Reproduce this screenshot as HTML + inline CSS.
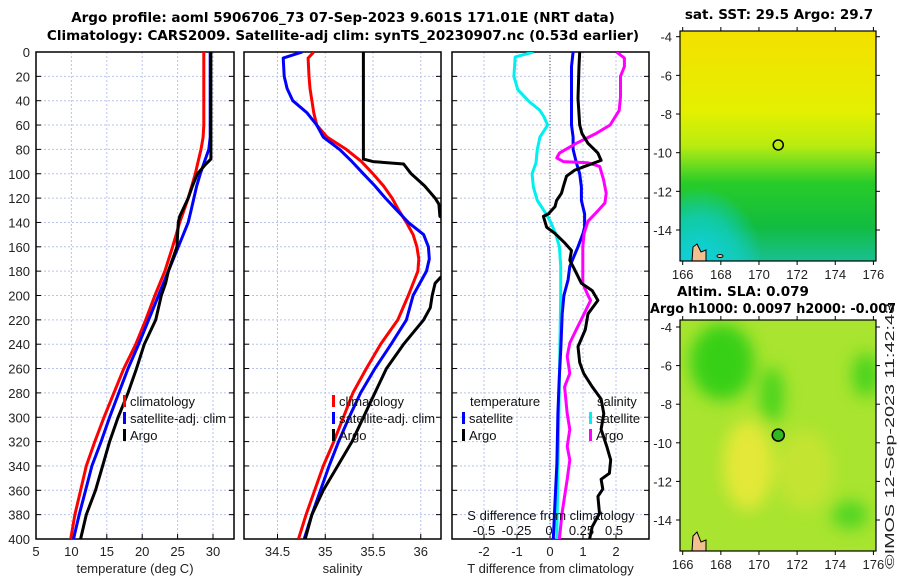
<!DOCTYPE html>
<html><head><meta charset="utf-8">
<style>
html,body{margin:0;padding:0;background:#fff;}
svg{display:block;font-family:"Liberation Sans","DejaVu Sans",sans-serif;}
.tk{font-size:13px;fill:#222;}
.ttl{font-size:13.5px;font-weight:bold;fill:#000;font-family:"DejaVu Sans","Liberation Sans",sans-serif;}
.lg{font-size:13px;fill:#111;}
</style></head>
<body>
<svg id="chart" width="900" height="580" viewBox="0 0 900 580" xmlns="http://www.w3.org/2000/svg">
<defs>
 <clipPath id="c1"><rect x="36" y="52" width="198" height="487"/></clipPath>
 <clipPath id="c2"><rect x="244" y="52" width="197" height="487"/></clipPath>
 <clipPath id="c3"><rect x="452" y="52" width="197" height="487"/></clipPath>
 <clipPath id="cm1"><rect x="680" y="31" width="196" height="230"/></clipPath>
 <clipPath id="cm2"><rect x="680" y="320" width="196" height="231"/></clipPath>
 <linearGradient id="sstg" x1="0" y1="0" x2="0" y2="1">
  <stop offset="0" stop-color="#f4e000"/><stop offset="0.35" stop-color="#e4f000"/>
  <stop offset="0.5" stop-color="#b8ec10"/><stop offset="0.58" stop-color="#70dc20"/>
  <stop offset="0.66" stop-color="#28cc28"/><stop offset="0.85" stop-color="#12bc40"/>
  <stop offset="1" stop-color="#18c090"/>
 </linearGradient>
 <radialGradient id="teal" cx="0.1" cy="1" r="0.32"><stop offset="0" stop-color="#10d0e0"/><stop offset="0.6" stop-color="#10d0d0" stop-opacity="0.7"/><stop offset="1" stop-color="#10d0e0" stop-opacity="0"/></radialGradient>
 <filter id="bl"><feGaussianBlur stdDeviation="8"/></filter>
</defs>
<g id="titles">
 <text class="ttl" x="343" y="22" text-anchor="middle">Argo profile: aoml 5906706_73 07-Sep-2023 9.601S 171.01E (NRT data)</text>
 <text class="ttl" x="343" y="40" text-anchor="middle">Climatology: CARS2009. Satellite-adj clim: synTS_20230907.nc (0.53d earlier)</text>
 <text class="ttl" x="779" y="19" text-anchor="middle">sat. SST: 29.5 Argo: 29.7</text>
 <text class="ttl" x="677" y="296">Altim. SLA: 0.079</text>
 <text class="ttl" x="650" y="313" textLength="246" lengthAdjust="spacingAndGlyphs">Argo h1000: 0.0097 h2000: -0.007</text>
 <text class="tk" x="0" y="0" transform="translate(894,569) rotate(-90)" textLength="266" lengthAdjust="spacingAndGlyphs">©IMOS 12-Sep-2023 11:42:43</text>
</g>
<g id="maps"></g>
<g id="panels"></g>
</svg>
<script>
// ---- data ----
const depths = [0,10,20,40,60,70,80,90,100,110,120,130,140,150,160,180,200,220,240,260,280,300,320,340,360,380,400];
const tempClim = [28.7,28.7,28.7,28.7,28.7,28.6,28.3,27.9,27.5,27.0,26.5,25.9,25.3,24.8,24.3,23.2,21.8,20.5,19.1,17.4,16.0,14.6,13.3,12.1,11.3,10.5,9.9];
const tempSat = [29.6,29.6,29.6,29.6,29.6,29.6,29.4,28.8,28.2,27.7,27.3,26.9,26.5,25.8,25.1,23.7,22.3,20.9,19.5,18.0,16.7,15.4,14.2,12.9,12.0,11.1,10.3];
const tempArgoDepth = [0,20,40,60,80,88,92,100,110,120,135,140,160,180,190,200,220,240,260,280,300,320,340,360,380,400];
const tempArgo = [29.7,29.7,29.7,29.7,29.7,29.7,29.0,27.8,27.1,26.5,25.3,25.1,24.9,23.7,23.3,22.7,21.9,20.3,19.2,18.0,16.6,15.4,14.4,13.4,12.1,11.3];
const salDepth = [0,5,20,30,40,50,60,70,80,90,100,110,120,130,140,150,160,170,180,200,220,240,260,280,300,320,340,360,380,400];
const salClim = [34.88,34.82,34.83,34.84,34.86,34.88,34.91,35.02,35.22,35.38,35.50,35.61,35.70,35.77,35.85,35.92,35.96,35.98,35.97,35.87,35.76,35.58,35.43,35.29,35.19,35.09,34.98,34.89,34.80,34.72];
const salSat = [34.76,34.56,34.57,34.60,34.66,34.81,34.91,34.98,35.15,35.28,35.40,35.52,35.63,35.75,35.87,36.03,36.08,36.09,36.06,35.92,35.85,35.69,35.52,35.37,35.25,35.14,35.04,34.95,34.86,34.78];
const salArgoDepth = [0,20,40,60,80,88,90,92,100,110,120,125,135,140,180,185,190,200,210,220,240,260,280,300,320,340,360,380,400];
const salArgo = [35.40,35.40,35.40,35.40,35.40,35.40,35.50,35.82,35.90,36.04,36.15,36.19,36.20,36.30,36.30,36.21,36.15,36.12,36.10,36.03,35.82,35.64,35.52,35.40,35.28,35.13,34.98,34.86,34.79];
const dTsatDepth = [0,12,38,60,70,80,91,100,111,122,133,144,149,160,176,187,200,215,242,269,297,338,370,400];
const dTsat = [0.70,0.65,0.65,0.65,0.70,0.70,0.80,0.90,0.95,0.95,1.05,1.05,1.00,0.85,0.60,0.55,0.42,0.37,0.33,0.28,0.24,0.21,0.15,0.10];
const dTargoDepth = [0,12,38,60,67,75,83,89,93,97,102,111,116,122,127,133,135,144,149,157,163,171,179,190,196,204,215,228,242,255,264,275,285,297,310,324,335,346,351,359,365,379,390,400];
const dTargo = [0.90,0.88,0.85,0.90,0.97,1.15,1.45,1.55,1.15,0.75,0.50,0.40,0.35,0.20,0.15,-0.05,-0.20,-0.10,0.15,0.45,0.65,0.60,0.75,0.95,1.28,1.45,1.15,1.07,0.85,0.90,1.02,1.28,1.55,1.63,1.55,1.72,1.84,1.80,1.55,1.60,1.45,1.50,1.28,1.20];
const dSsatDepth = [0,4,20,31,41,48,53,60,70,80,91,100,111,122,130,139,149,160,176,200,300,400];
const dSsat = [-0.12,-0.26,-0.27,-0.24,-0.15,-0.07,-0.04,-0.01,-0.07,-0.09,-0.10,-0.13,-0.12,-0.09,-0.04,0.01,0.05,0.08,0.09,0.09,0.075,0.06];
const dSargoDepth = [0,5,12,20,37,48,60,67,75,83,87,90,91,94,105,116,124,130,139,149,160,176,190,200,204,215,228,239,250,264,275,297,310,324,335,351,365,379,400];
const dSargo = [0.52,0.58,0.58,0.55,0.55,0.54,0.47,0.36,0.21,0.08,0.06,0.11,0.30,0.39,0.42,0.44,0.43,0.38,0.30,0.27,0.26,0.26,0.26,0.30,0.32,0.27,0.21,0.16,0.14,0.16,0.12,0.14,0.16,0.14,0.16,0.14,0.12,0.10,0.08];
const depthTicks = [0,20,40,60,80,100,120,140,160,180,200,220,240,260,280,300,320,340,360,380,400];
const tempTicks = [5,10,15,20,25,30];
const salTicks = [34.5,35,35.5,36];
const dTTicks = [-2,-1,0,1,2];
const dSTicks = [-0.5,-0.25,0,0.25,0.5];
const dSTickLabels = ["-0.5","-0.25","0","0.25","0.5"];
const lonTicks = [166,168,170,172,174,176];
const latTicks = [-4,-6,-8,-10,-12,-14];
const argoLon = 171.01, argoLat = -9.601;

// ---- axis functions ----
const Y = d => 52 + d * 487 / 400;
const X1 = t => 36 + (t - 5) * 7.08;
const X2 = s => 277.5 + (s - 34.5) * 95.5;
const X3 = t => 550 + t * 33;
const X3s = s => 549 + s * 130;
const MX = lon => 682.7 + (lon - 166) * 19.07;
const MY1 = lat => 36.7 + (-4 - lat) * 19.33;
const MY2 = lat => 327 + (-4 - lat) * 19.3;

const NS = "http://www.w3.org/2000/svg";
function mk(parent, tag, attrs) {
  const e = document.createElementNS(NS, tag);
  for (const k in attrs) e.setAttribute(k, attrs[k]);
  parent.appendChild(e); return e;
}
const panels = document.getElementById('panels');
const maps = document.getElementById('maps');

function axesFrame(x0, x1, xticks, xf, labels, xlabel, name, showY) {
  const g = mk(panels, 'g', {});
  
  
  depthTicks.forEach(d => {
    const l = mk(g, 'line', {x1: x0, x2: x1, y1: Y(d), y2: Y(d), stroke: '#b8c4ee', 'stroke-width': 1, 'stroke-dasharray': '2,2'});
    
    
    const t1 = mk(g, 'line', {x1: x0, x2: x0 + 5, y1: Y(d), y2: Y(d), stroke: '#000'});
    
    
    const t2 = mk(g, 'line', {x1: x1 - 5, x2: x1, y1: Y(d), y2: Y(d), stroke: '#000'});
    
    
    if (showY) {
      const tx = mk(g, 'text', {x: 30, y: Y(d) + 5, 'text-anchor': 'end', class: 'tk'});
      tx.textContent = d;
      
      
    }
  });
  xticks.forEach((v, i) => {
    const l = mk(g, 'line', {x1: xf(v), x2: xf(v), y1: 52, y2: 539, stroke: '#b8c4ee', 'stroke-width': 1, 'stroke-dasharray': '2,2'});
    
    
    const t = mk(g, 'line', {x1: xf(v), x2: xf(v), y1: 534, y2: 539, stroke: '#000'});
    
    
    const tx = mk(g, 'text', {x: xf(v), y: 556, 'text-anchor': 'middle', class: 'tk'});
    tx.textContent = labels ? labels[i] : v;
    
    
  });
  const r = mk(g, 'rect', {x: x0, y: 52, width: x1 - x0, height: 487, fill: 'none', stroke: '#000', 'stroke-width': 1.5});
  
  
  const xl = mk(g, 'text', {x: (x0 + x1) / 2, y: 573, 'text-anchor': 'middle', class: 'tk'});
  xl.textContent = xlabel;
  
  
}

function line(clip, dArr, vArr, xf, color, name, w) {
  const pts = dArr.map((d, i) => xf(vArr[i]).toFixed(1) + ',' + Y(d).toFixed(1)).join(' ');
  const p = mk(panels, 'polyline', {points: pts, fill: 'none', stroke: color, 'stroke-width': w || 3, 'stroke-linejoin': 'round', 'clip-path': 'url(#' + clip + ')'});
  
  
}

function legend(x, y, color, label, name) {
  const b = mk(panels, 'rect', {x: x, y: y - 11, width: 3, height: 12, fill: color});
  
  
  const t = mk(panels, 'text', {x: x + 7, y: y, class: 'lg'});
  t.textContent = label;
  
  
}

axesFrame(36, 234, tempTicks, X1, null, 'temperature (deg C)', 'temperature', true);
line('c1', depths, tempClim, X1, '#ff0000', 'temperature-climatology-line');
line('c1', depths, tempSat, X1, '#0000ff', 'temperature-satellite-line');
line('c1', tempArgoDepth, tempArgo, X1, '#000000', 'temperature-argo-line');
legend(123, 406, '#ff0000', 'climatology', 'temperature-legend-climatology');
legend(123, 423, '#0000ff', 'satellite-adj. clim', 'temperature-legend-satellite');
legend(123, 440, '#000000', 'Argo', 'temperature-legend-argo');

axesFrame(244, 441, salTicks, X2, null, 'salinity', 'salinity', false);
line('c2', salDepth, salClim, X2, '#ff0000', 'salinity-climatology-line');
line('c2', salDepth, salSat, X2, '#0000ff', 'salinity-satellite-line');
line('c2', salArgoDepth, salArgo, X2, '#000000', 'salinity-argo-line');
legend(332, 406, '#ff0000', 'climatology', 'salinity-legend-climatology');
legend(332, 423, '#0000ff', 'satellite-adj. clim', 'salinity-legend-satellite');
legend(332, 440, '#000000', 'Argo', 'salinity-legend-argo');

axesFrame(452, 649, dTTicks, X3, null, 'T difference from climatology', 'difference', false);
const zl = mk(panels, 'line', {x1: X3(0), x2: X3(0), y1: 52, y2: 539, stroke: '#555', 'stroke-dasharray': '1,2'});


line('c3', dSsatDepth, dSsat, X3s, '#00f0f0', 'salinity-diff-satellite-line');
line('c3', dTsatDepth, dTsat, X3, '#0000ff', 'temperature-diff-satellite-line');
line('c3', dSargoDepth, dSargo, X3s, '#ff00ff', 'salinity-diff-argo-line');
line('c3', dTargoDepth, dTargo, X3, '#000000', 'temperature-diff-argo-line');
const lt = mk(panels, 'text', {x: 470, y: 406, class: 'lg'});
lt.textContent = 'temperature';


const ls = mk(panels, 'text', {x: 597, y: 406, class: 'lg'});
ls.textContent = 'salinity';


legend(462, 423, '#0000ff', 'satellite', 'diff-legend-t-satellite');
legend(462, 440, '#000000', 'Argo', 'diff-legend-t-argo');
legend(589, 423, '#00f0f0', 'satellite', 'diff-legend-s-satellite');
legend(589, 440, '#ff00ff', 'Argo', 'diff-legend-s-argo');
const st = mk(panels, 'text', {x: 551, y: 520, 'text-anchor': 'middle', class: 'lg'});
st.textContent = 'S difference from climatology';


dSTicks.forEach((v, i) => {
  const t = mk(panels, 'text', {x: X3s(v), y: 535, 'text-anchor': 'middle', class: 'lg'});
  t.textContent = dSTickLabels[i];
  
  
});

// ---- maps ----
function mapAxes(y0, y1, MY, name) {
  const g = mk(maps, 'g', {});
  
  
  const r = mk(g, 'rect', {x: 680, y: y0, width: 196, height: y1 - y0, fill: 'none', stroke: '#000', 'stroke-width': 1.2});
  
  
  lonTicks.forEach(v => {
    mk(g, 'line', {x1: MX(v), x2: MX(v), y1: y0 - 4, y2: y0, stroke: '#000'});
    mk(g, 'line', {x1: MX(v), x2: MX(v), y1: y1, y2: y1 + 4, stroke: '#000'});
    const t = mk(g, 'text', {x: MX(v), y: y1 + 18, 'text-anchor': 'middle', class: 'tk'});
    t.textContent = v;
    
    
  });
  latTicks.forEach(v => {
    mk(g, 'line', {x1: 676, x2: 680, y1: MY(v), y2: MY(v), stroke: '#000'});
    mk(g, 'line', {x1: 876, x2: 880, y1: MY(v), y2: MY(v), stroke: '#000'});
    const t = mk(g, 'text', {x: 672, y: MY(v) + 5, 'text-anchor': 'end', class: 'tk'});
    t.textContent = v;
    
    
  });
}
const m1 = mk(maps, 'g', {'clip-path': 'url(#cm1)'});


mk(m1, 'rect', {x: 680, y: 31, width: 196, height: 230, fill: 'url(#sstg)'});
mk(m1, 'rect', {x: 680, y: 31, width: 196, height: 230, fill: 'url(#teal)'});
mk(m1, 'path', {d: 'M692,261 L693,247 L697,244 L701,252 L706,250 L706,261 Z', fill: '#f5c090', stroke: '#000', 'stroke-width': 1});
mk(m1, 'ellipse', {cx: 720, cy: 256, rx: 3, ry: 1.5, fill: '#f5c090', stroke: '#000'});
const c1 = mk(maps, 'circle', {cx: MX(argoLon), cy: MY1(argoLat), r: 5, fill: 'none', stroke: '#000', 'stroke-width': 1.5});


mapAxes(31, 261, MY1, 'sst-map');
const m2 = mk(maps, 'g', {'clip-path': 'url(#cm2)'});


mk(m2, 'rect', {x: 680, y: 320, width: 196, height: 231, fill: '#a8e430'});
const blobs = mk(m2, 'g', {filter: 'url(#bl)'});
mk(blobs, 'ellipse', {cx: 722, cy: 362, rx: 32, ry: 38, fill: '#38d018'});
mk(blobs, 'ellipse', {cx: 772, cy: 395, rx: 12, ry: 28, fill: '#48d41c'});
mk(blobs, 'ellipse', {cx: 866, cy: 375, rx: 14, ry: 22, fill: '#4cd41e'});
mk(blobs, 'ellipse', {cx: 850, cy: 515, rx: 18, ry: 14, fill: '#50d620'});
mk(blobs, 'ellipse', {cx: 748, cy: 465, rx: 25, ry: 45, fill: '#e4e838'});
mk(blobs, 'ellipse', {cx: 805, cy: 470, rx: 28, ry: 40, fill: '#c4e430'});
mk(m2, 'path', {d: 'M692,551 L693,536 L697,532 L701,542 L706,540 L706,551 Z', fill: '#f5c090', stroke: '#000', 'stroke-width': 1});
const c2 = mk(maps, 'circle', {cx: MX(argoLon), cy: MY2(argoLat), r: 6, fill: '#30b820', stroke: '#000', 'stroke-width': 1.5});


mapAxes(320, 551, MY2, 'sla-map');
</script>
</body></html>
